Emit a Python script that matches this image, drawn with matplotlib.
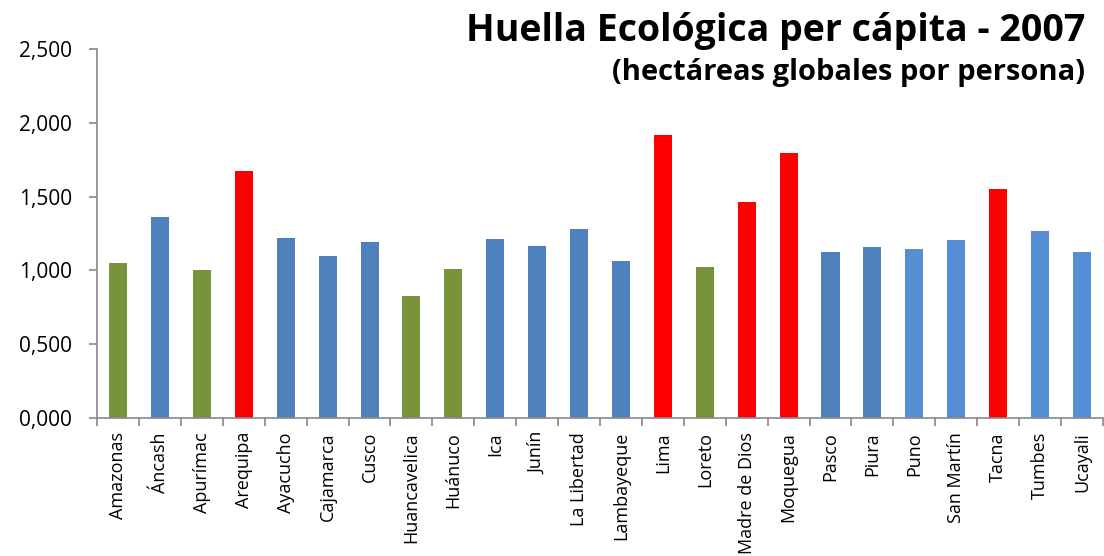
import matplotlib.pyplot as plt
import numpy as np
from matplotlib.ticker import FuncFormatter

# ---- data ----
regiones = ["Amazonas", "Áncash", "Apurímac", "Arequipa", "Ayacucho", "Cajamarca",
            "Cusco", "Huancavelica", "Huánuco", "Ica", "Junín", "La Libertad",
            "Lambayeque", "Lima", "Loreto", "Madre de Dios", "Moquegua", "Pasco",
            "Piura", "Puno", "San Martín", "Tacna", "Tumbes", "Ucayali"]
huella = [1.052, 1.364, 1.005, 1.676, 1.222, 1.095,
          1.190, 0.828, 1.011, 1.210, 1.167, 1.283,
          1.066, 1.916, 1.025, 1.466, 1.794, 1.127,
          1.158, 1.147, 1.208, 1.554, 1.269, 1.127]
grupo = ["bajo", "medio", "bajo", "alto", "medio", "medio",
         "medio", "bajo", "bajo", "medio", "medio", "medio",
         "medio", "alto", "bajo", "alto", "alto", "medio",
         "medio", "medio2", "medio2", "alto", "medio2", "medio2"]
# ---------------

colores = {"bajo": "#77933C", "medio": "#4F81BD", "medio2": "#558ED5", "alto": "#FF0000"}

plt.rcParams['font.family'] = ['Open Sans', 'DejaVu Sans']

fig = plt.figure(figsize=(11.04, 5.56), dpi=100)
ax = fig.add_axes([0.088, 0.248, 0.911, 0.664])

x = np.arange(len(regiones))
ax.bar(x, huella, width=0.43, color=[colores[g] for g in grupo], zorder=2)

ax.set_xlim(-0.5, len(regiones) - 0.5)
ax.set_ylim(0, 2.5)
ax.set_yticks(np.arange(0, 2.51, 0.5))
ax.yaxis.set_major_formatter(FuncFormatter(lambda v, p: f"{v:.3f}".replace(".", ",")))

ax.set_xticks(x)
ax.set_xticklabels(regiones, rotation=90, fontsize=13)
ax.set_xticks(np.arange(-0.5, len(regiones)), minor=True)
ax.tick_params(axis='x', which='major', length=0, pad=10)
ax.tick_params(axis='x', which='minor', length=6, color="#898989", width=1.2)
ax.tick_params(axis='y', length=6, color="#898989", width=1.2, labelsize=15, pad=12)

for s in ["top", "right"]:
    ax.spines[s].set_visible(False)
for s in ["left", "bottom"]:
    ax.spines[s].set_color("#898989")
    ax.spines[s].set_linewidth(1.2)

fig.text(0.983, 0.945, "Huella Ecológica per cápita - 2007", ha="right", va="center",
         fontsize=27, fontweight="bold")
fig.text(0.983, 0.870, "(hectáreas globales por persona)", ha="right", va="center",
         fontsize=21, fontweight="bold")

plt.savefig("out.png", dpi=100)
